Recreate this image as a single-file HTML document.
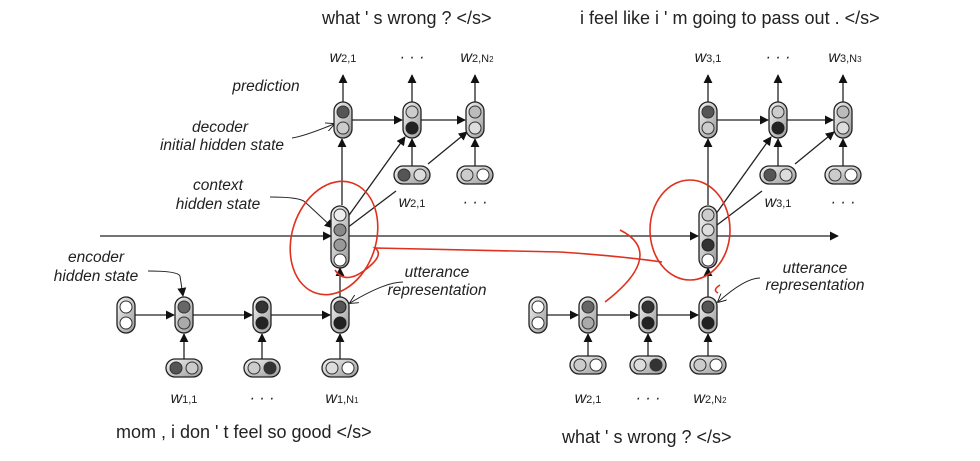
<!DOCTYPE html>
<html><head><meta charset="utf-8"><style>
html,body{margin:0;padding:0;background:#fff;}
svg{display:block;}
text{font-family:"Liberation Sans",sans-serif;fill:#222;}
.it{font-style:italic;font-size:15.5px;}
.s{font-family:"Liberation Serif",serif;font-style:italic;font-size:16px;}
.t{font-size:18px;}
</style></head><body>
<svg width="980" height="461" viewBox="0 0 980 461" xmlns="http://www.w3.org/2000/svg">
<defs>
<marker id="a" viewBox="0 0 10 10" refX="9" refY="5" markerWidth="9" markerHeight="9" markerUnits="userSpaceOnUse" orient="auto"><path d="M0,0L10,5L0,10z" fill="#111"/></marker>
<marker id="o" viewBox="0 0 10 10" refX="9" refY="5" markerWidth="9" markerHeight="9" markerUnits="userSpaceOnUse" orient="auto"><path d="M0,0L10,5L0,10" fill="none" stroke="#111"/></marker>
<linearGradient id="g" x1="0" y1="0" x2="1" y2="1"><stop offset="0" stop-color="#f4f4f4"/><stop offset="1" stop-color="#9a9a9a"/></linearGradient>
<rect id="v2" x="-9" y="-18" width="18" height="36" rx="9" fill="url(#g)" stroke="#222" stroke-width="1.3"/>
<rect id="v4" x="-9" y="-31" width="18" height="62" rx="9" fill="url(#g)" stroke="#222" stroke-width="1.3"/>
<rect id="h2" x="-18" y="-9" width="36" height="18" rx="9" fill="url(#g)" stroke="#222" stroke-width="1.3"/>
</defs>
<g stroke="#222" stroke-width="1.3" fill="none">
<line x1="100" y1="236" x2="331" y2="236" marker-end="url(#a)"/>
<line x1="349" y1="236" x2="698" y2="236" marker-end="url(#a)"/>
<line x1="717" y1="236" x2="838" y2="236" marker-end="url(#a)"/>
<line x1="135" y1="315" x2="174" y2="315" marker-end="url(#a)"/>
<line x1="193" y1="315" x2="252" y2="315" marker-end="url(#a)"/>
<line x1="271" y1="315" x2="330" y2="315" marker-end="url(#a)"/>
<line x1="184" y1="359" x2="184" y2="334" marker-end="url(#a)"/>
<line x1="262" y1="359" x2="262" y2="334" marker-end="url(#a)"/>
<line x1="340" y1="359" x2="340" y2="334" marker-end="url(#a)"/>
<line x1="340" y1="297" x2="340" y2="268" marker-end="url(#a)"/>
<line x1="342" y1="205" x2="342" y2="139" marker-end="url(#a)"/>
<line x1="347" y1="218" x2="405" y2="137" marker-end="url(#a)"/>
<line x1="347" y1="228" x2="396" y2="191"/>
<line x1="352" y1="120" x2="402" y2="120" marker-end="url(#a)"/>
<line x1="421" y1="120" x2="465" y2="120" marker-end="url(#a)"/>
<line x1="343" y1="102" x2="343" y2="75" marker-end="url(#a)"/>
<line x1="412" y1="102" x2="412" y2="75" marker-end="url(#a)"/>
<line x1="475" y1="102" x2="475" y2="75" marker-end="url(#a)"/>
<line x1="412" y1="166" x2="412" y2="139" marker-end="url(#a)"/>
<line x1="475" y1="166" x2="475" y2="139" marker-end="url(#a)"/>
<line x1="428" y1="164" x2="467" y2="132" marker-end="url(#a)"/>
<line x1="547" y1="315" x2="578" y2="315" marker-end="url(#a)"/>
<line x1="597" y1="315" x2="638" y2="315" marker-end="url(#a)"/>
<line x1="657" y1="315" x2="698" y2="315" marker-end="url(#a)"/>
<line x1="588" y1="356" x2="588" y2="334" marker-end="url(#a)"/>
<line x1="648" y1="356" x2="648" y2="334" marker-end="url(#a)"/>
<line x1="708" y1="356" x2="708" y2="334" marker-end="url(#a)"/>
<line x1="708" y1="297" x2="708" y2="268" marker-end="url(#a)"/>
<line x1="708" y1="205" x2="708" y2="139" marker-end="url(#a)"/>
<line x1="713" y1="218" x2="771" y2="137" marker-end="url(#a)"/>
<line x1="713" y1="228" x2="762" y2="191"/>
<line x1="717" y1="120" x2="768" y2="120" marker-end="url(#a)"/>
<line x1="787" y1="120" x2="833" y2="120" marker-end="url(#a)"/>
<line x1="708" y1="102" x2="708" y2="75" marker-end="url(#a)"/>
<line x1="778" y1="102" x2="778" y2="75" marker-end="url(#a)"/>
<line x1="843" y1="102" x2="843" y2="75" marker-end="url(#a)"/>
<line x1="778" y1="166" x2="778" y2="139" marker-end="url(#a)"/>
<line x1="843" y1="166" x2="843" y2="139" marker-end="url(#a)"/>
<line x1="795" y1="164" x2="834" y2="132" marker-end="url(#a)"/>
<path d="M148,271 Q178,271 180,276 L183,296" marker-end="url(#a)" stroke-width="1"/>
<path d="M270,197 Q300,197 305,202 L333,228" marker-end="url(#a)" stroke-width="1"/>
<path d="M292,138 Q305,136 334,124" marker-end="url(#o)" stroke-width="1"/>
<path d="M403,282 Q385,282 350,303" marker-end="url(#o)" stroke-width="1"/>
<path d="M760,278 Q745,278 718,302" marker-end="url(#o)" stroke-width="1"/>
</g>
<g>
<use href="#v2" x="126" y="315"/><circle cx="126" cy="307" r="6" fill="#fff" stroke="#333"/><circle cx="126" cy="323" r="6" fill="#fff" stroke="#333"/>
<use href="#v2" x="184" y="315"/><circle cx="184" cy="307" r="6" fill="#666" stroke="#333"/><circle cx="184" cy="323" r="6" fill="#aaa" stroke="#333"/>
<use href="#v2" x="262" y="315"/><circle cx="262" cy="307" r="6" fill="#333" stroke="#222"/><circle cx="262" cy="323" r="6" fill="#222" stroke="#222"/>
<use href="#v2" x="340" y="315"/><circle cx="340" cy="307" r="6" fill="#555" stroke="#222"/><circle cx="340" cy="323" r="6" fill="#222" stroke="#222"/>
<use href="#h2" x="184" y="368"/><circle cx="176" cy="368" r="6" fill="#555" stroke="#333"/><circle cx="192" cy="368" r="6" fill="#ccc" stroke="#333"/>
<use href="#h2" x="262" y="368"/><circle cx="254" cy="368" r="6" fill="#ccc" stroke="#333"/><circle cx="270" cy="368" r="6" fill="#333" stroke="#333"/>
<use href="#h2" x="340" y="368"/><circle cx="332" cy="368" r="6" fill="#ddd" stroke="#333"/><circle cx="348" cy="368" r="6" fill="#fff" stroke="#333"/>
<use href="#v4" x="340" y="237"/><circle cx="340" cy="215" r="6" fill="#eee" stroke="#333"/><circle cx="340" cy="230" r="6" fill="#888" stroke="#333"/><circle cx="340" cy="245" r="6" fill="#999" stroke="#333"/><circle cx="340" cy="260" r="6" fill="#fff" stroke="#333"/>
<use href="#v2" x="343" y="120"/><circle cx="343" cy="112" r="6" fill="#555" stroke="#333"/><circle cx="343" cy="128" r="6" fill="#ccc" stroke="#333"/>
<use href="#v2" x="412" y="120"/><circle cx="412" cy="112" r="6" fill="#ccc" stroke="#333"/><circle cx="412" cy="128" r="6" fill="#222" stroke="#222"/>
<use href="#v2" x="475" y="120"/><circle cx="475" cy="112" r="6" fill="#bbb" stroke="#333"/><circle cx="475" cy="128" r="6" fill="#ddd" stroke="#333"/>
<use href="#h2" x="412" y="175"/><circle cx="404" cy="175" r="6" fill="#555" stroke="#333"/><circle cx="420" cy="175" r="6" fill="#ddd" stroke="#333"/>
<use href="#h2" x="475" y="175"/><circle cx="467" cy="175" r="6" fill="#ccc" stroke="#333"/><circle cx="483" cy="175" r="6" fill="#fff" stroke="#333"/>
<use href="#v2" x="538" y="315"/><circle cx="538" cy="307" r="6" fill="#fff" stroke="#333"/><circle cx="538" cy="323" r="6" fill="#fff" stroke="#333"/>
<use href="#v2" x="588" y="315"/><circle cx="588" cy="307" r="6" fill="#666" stroke="#333"/><circle cx="588" cy="323" r="6" fill="#aaa" stroke="#333"/>
<use href="#v2" x="648" y="315"/><circle cx="648" cy="307" r="6" fill="#333" stroke="#222"/><circle cx="648" cy="323" r="6" fill="#222" stroke="#222"/>
<use href="#v2" x="708" y="315"/><circle cx="708" cy="307" r="6" fill="#555" stroke="#222"/><circle cx="708" cy="323" r="6" fill="#222" stroke="#222"/>
<use href="#h2" x="588" y="365"/><circle cx="580" cy="365" r="6" fill="#ccc" stroke="#333"/><circle cx="596" cy="365" r="6" fill="#fff" stroke="#333"/>
<use href="#h2" x="648" y="365"/><circle cx="640" cy="365" r="6" fill="#ddd" stroke="#333"/><circle cx="656" cy="365" r="6" fill="#333" stroke="#333"/>
<use href="#h2" x="708" y="365"/><circle cx="700" cy="365" r="6" fill="#ccc" stroke="#333"/><circle cx="716" cy="365" r="6" fill="#fff" stroke="#333"/>
<use href="#v4" x="708" y="237"/><circle cx="708" cy="215" r="6" fill="#ccc" stroke="#333"/><circle cx="708" cy="230" r="6" fill="#ddd" stroke="#333"/><circle cx="708" cy="245" r="6" fill="#333" stroke="#222"/><circle cx="708" cy="260" r="6" fill="#fff" stroke="#333"/>
<use href="#v2" x="708" y="120"/><circle cx="708" cy="112" r="6" fill="#555" stroke="#333"/><circle cx="708" cy="128" r="6" fill="#ccc" stroke="#333"/>
<use href="#v2" x="778" y="120"/><circle cx="778" cy="112" r="6" fill="#ccc" stroke="#333"/><circle cx="778" cy="128" r="6" fill="#222" stroke="#222"/>
<use href="#v2" x="843" y="120"/><circle cx="843" cy="112" r="6" fill="#bbb" stroke="#333"/><circle cx="843" cy="128" r="6" fill="#ddd" stroke="#333"/>
<use href="#h2" x="778" y="175"/><circle cx="770" cy="175" r="6" fill="#555" stroke="#333"/><circle cx="786" cy="175" r="6" fill="#ddd" stroke="#333"/>
<use href="#h2" x="843" y="175"/><circle cx="835" cy="175" r="6" fill="#ccc" stroke="#333"/><circle cx="851" cy="175" r="6" fill="#fff" stroke="#333"/>
</g>
<g stroke="#e0301e" stroke-width="1.6" fill="none">
<ellipse cx="334" cy="238" rx="42" ry="58" transform="rotate(18 334 238)"/>
<path d="M335,270 Q345,285 365,270 Q385,255 375,248 Q460,250 560,252 Q620,256 662,262"/>
<ellipse cx="690" cy="230" rx="40" ry="50"/>
<path d="M620,230 Q640,240 640,255 Q640,275 605,302"/>
<path d="M720,285 Q712,290 718,293"/>
</g>
<text class="t" x="322" y="24">what ' s wrong ? &lt;/s&gt;</text>
<text class="t" x="580" y="24">i feel like i ' m going to pass out . &lt;/s&gt;</text>
<text class="t" x="116" y="438">mom , i don ' t feel so good &lt;/s&gt;</text>
<text class="t" x="562" y="443">what ' s wrong ? &lt;/s&gt;</text>
<g class="it" text-anchor="middle">
<text x="266" y="91">prediction</text>
<text x="220" y="132">decoder</text>
<text x="222" y="150">initial hidden state</text>
<text x="218" y="190">context</text>
<text x="218" y="209">hidden state</text>
<text x="96" y="262">encoder</text>
<text x="96" y="281">hidden state</text>
<text x="437" y="277">utterance</text>
<text x="437" y="295">representation</text>
<text x="815" y="273">utterance</text>
<text x="815" y="290">representation</text>
</g>
<g class="s" text-anchor="middle">
<text x="343" y="62">w<tspan font-size="11" font-style="normal">2,1</tspan></text>
<text x="412" y="62">· · ·</text>
<text x="477" y="62">w<tspan font-size="11" font-style="normal">2,N</tspan><tspan font-size="8" font-style="normal">2</tspan></text>
<text x="412" y="207">w<tspan font-size="11" font-style="normal">2,1</tspan></text>
<text x="475" y="207">· · ·</text>
<text x="708" y="62">w<tspan font-size="11" font-style="normal">3,1</tspan></text>
<text x="778" y="62">· · ·</text>
<text x="845" y="62">w<tspan font-size="11" font-style="normal">3,N</tspan><tspan font-size="8" font-style="normal">3</tspan></text>
<text x="778" y="207">w<tspan font-size="11" font-style="normal">3,1</tspan></text>
<text x="843" y="207">· · ·</text>
<text x="184" y="403">w<tspan font-size="11" font-style="normal">1,1</tspan></text>
<text x="262" y="403">· · ·</text>
<text x="342" y="403">w<tspan font-size="11" font-style="normal">1,N</tspan><tspan font-size="8" font-style="normal">1</tspan></text>
<text x="588" y="403">w<tspan font-size="11" font-style="normal">2,1</tspan></text>
<text x="648" y="403">· · ·</text>
<text x="710" y="403">w<tspan font-size="11" font-style="normal">2,N</tspan><tspan font-size="8" font-style="normal">2</tspan></text>
</g>
</svg>
</body></html>
